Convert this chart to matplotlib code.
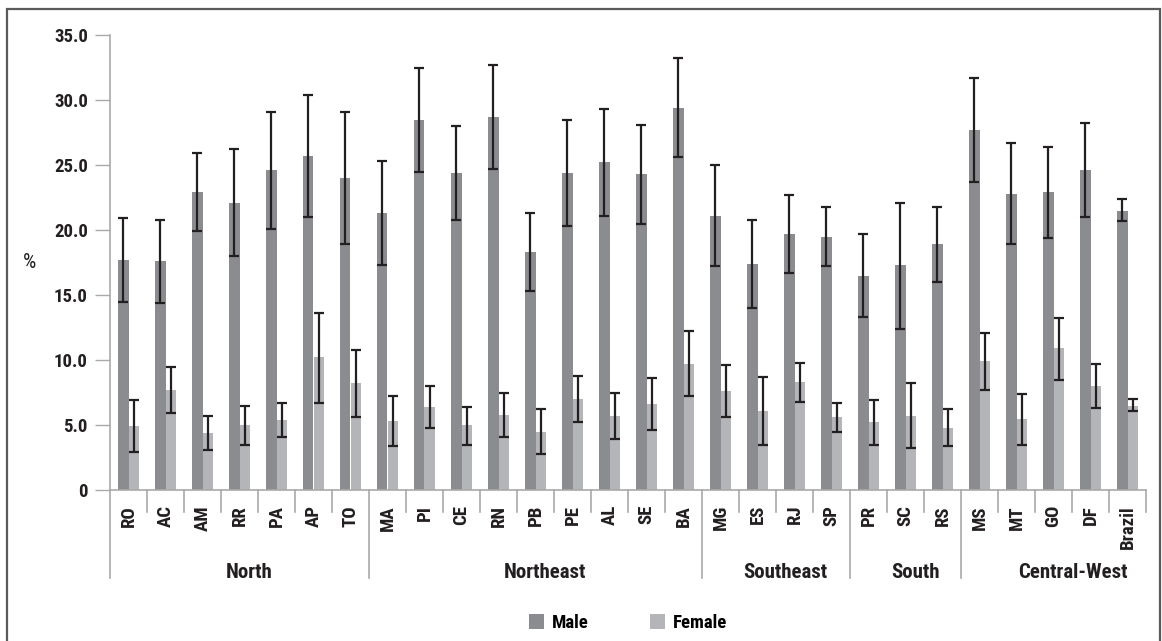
import matplotlib
matplotlib.use("Agg")
import matplotlib.pyplot as plt
import matplotlib.transforms as mtransforms
from matplotlib import font_manager
from matplotlib.patches import Patch, Rectangle
import numpy as np

# ---- data -------------------------------------------------------------
states = ["RO", "AC", "AM", "RR", "PA", "AP", "TO",
          "MA", "PI", "CE", "RN", "PB", "PE", "AL", "SE", "BA",
          "MG", "ES", "RJ", "SP",
          "PR", "SC", "RS",
          "MS", "MT", "GO", "DF", "Brazil"]
regions = ["North", "Northeast", "Southeast", "South", "Central-West"]
region_sizes = [7, 9, 4, 3, 5]

male = [17.7, 17.6, 22.9, 22.1, 24.6, 25.7, 24.0,
        21.3, 28.5, 24.4, 28.7, 18.3, 24.4, 25.2, 24.3, 29.4,
        21.1, 17.4, 19.7, 19.5,
        16.5, 17.3, 18.9,
        27.7, 22.8, 22.9, 24.6, 21.5]
male_lo = [14.5, 14.4, 19.9, 18.0, 20.1, 21.0, 18.9,
           17.3, 24.5, 20.8, 24.7, 15.3, 20.3, 21.1, 20.5, 25.6,
           17.2, 14.0, 16.7, 17.2,
           13.3, 12.4, 16.0,
           23.7, 18.9, 19.4, 21.0, 20.7]
male_hi = [20.9, 20.8, 25.9, 26.2, 29.1, 30.4, 29.1,
           25.3, 32.5, 28.0, 32.7, 21.3, 28.5, 29.3, 28.1, 33.2,
           25.0, 20.8, 22.7, 21.8,
           19.7, 22.1, 21.8,
           31.7, 26.7, 26.4, 28.2, 22.4]

female = [4.9, 7.7, 4.4, 5.0, 5.4, 10.2, 8.2,
          5.3, 6.4, 5.0, 5.8, 4.5, 7.0, 5.7, 6.6, 9.7,
          7.6, 6.1, 8.3, 5.6,
          5.2, 5.7, 4.8,
          9.9, 5.5, 10.9, 8.0, 6.5]
female_lo = [2.9, 5.9, 3.1, 3.5, 4.1, 6.7, 5.6,
             3.4, 4.8, 3.5, 4.1, 2.8, 5.2, 3.9, 4.6, 7.2,
             5.6, 3.5, 6.8, 4.5,
             3.5, 3.2, 3.4,
             7.7, 3.5, 8.5, 6.3, 6.1]
female_hi = [6.9, 9.5, 5.7, 6.5, 6.7, 13.6, 10.8,
             7.2, 8.0, 6.4, 7.5, 6.2, 8.8, 7.5, 8.6, 12.2,
             9.6, 8.7, 9.8, 6.7,
             6.9, 8.2, 6.2,
             12.1, 7.4, 13.2, 9.7, 7.0]

# ---- styling ----------------------------------------------------------
# prefer a condensed sans if one is installed, otherwise a narrow-ish one
installed = {f.name for f in font_manager.fontManager.ttflist}
condensed = [n for n in ("Liberation Sans Narrow", "Roboto Condensed",
                         "Open Sans Condensed", "Noto Sans Condensed",
                         "DejaVu Sans Condensed") if n in installed]
BASE = condensed[0] if condensed else "Lato"
FONT = [BASE, "DejaVu Sans"]
SCALE = 1.0 if condensed else 0.9
plt.rcParams["font.family"] = FONT

MALE_C = "#8b8c90"
FEMALE_C = "#b4b5b8"
ERR_C = "#231f20"
AXIS_C = "#a9a9a9"
TEXT_C = "#231f20"

W, H = 1162, 641
fig = plt.figure(figsize=(W / 100, H / 100), dpi=100)
ax = fig.add_axes([110 / W, 1 - 490 / H, (1146 - 110) / W, (490 - 35) / H])

x = np.arange(len(states))
bw = 0.284
male = np.array(male); female = np.array(female)
ax.bar(x - bw / 2, male, bw, color=MALE_C, zorder=2)
ax.bar(x + bw / 2, female, bw, color=FEMALE_C, zorder=2)

err_kw = dict(fmt="none", ecolor=ERR_C, elinewidth=1.6, capsize=3.6,
              capthick=1.6, zorder=3)
ax.errorbar(x - bw / 2, male,
            yerr=[male - np.array(male_lo), np.array(male_hi) - male], **err_kw)
ax.errorbar(x + bw / 2, female,
            yerr=[female - np.array(female_lo), np.array(female_hi) - female], **err_kw)

ax.set_xlim(-0.5, len(states) - 0.5)
ax.set_ylim(0, 35)

yt = np.arange(0, 35.1, 5)
ax.set_yticks(yt)
ax.set_yticklabels(["0" if v == 0 else f"{v:.1f}" for v in yt],
                   fontsize=13.5 * SCALE, fontweight="bold", color=TEXT_C)
ax.tick_params(axis="y", length=11, width=1, color=AXIS_C, pad=5)
ax.set_xticks([])

for s in ["top", "right"]:
    ax.spines[s].set_visible(False)
for s in ["left", "bottom"]:
    ax.spines[s].set_color(AXIS_C)
    ax.spines[s].set_linewidth(1.2)

ax.text(-0.078, 0.5, "%", transform=ax.transAxes, fontsize=15 * SCALE,
        color=TEXT_C, ha="center", va="center")

# ---- two-level category axis -----------------------------------------
trans = mtransforms.blended_transform_factory(ax.transData, ax.transAxes)
ax_h = 490 - 35
short_y = -22 / ax_h
long_y = -88 / ax_h

bounds = np.cumsum([0] + region_sizes) - 0.5
for edge in np.arange(-0.5, len(states), 1.0):
    is_group = any(np.isclose(edge, b) for b in bounds[:-1])
    ax.plot([edge, edge], [0, long_y if is_group else short_y],
            transform=trans, color=AXIS_C, lw=1.2, clip_on=False)

for i, name in enumerate(states):
    ax.text(i, -15 / ax_h, name, transform=trans, rotation=90,
            ha="center", va="top", fontsize=13.5 * SCALE, fontweight="bold",
            color=TEXT_C)

label_shift = [0.26, 0.26, 0.26, 0.26, 0.52]
for k, name in enumerate(regions):
    cx = (bounds[k] + bounds[k + 1]) / 2 + label_shift[k]
    ax.text(cx, -83 / ax_h, name, transform=trans, ha="center", va="center",
            fontsize=15 * SCALE, fontweight="bold", color=TEXT_C)

# ---- legend ----------------------------------------------------------
handles = [Patch(facecolor=MALE_C, label="Male"),
           Patch(facecolor=FEMALE_C, label="Female")]
fig.legend(handles=handles, loc="center", bbox_to_anchor=(628 / W, 1 - 623 / H),
           ncol=2, frameon=False, handlelength=0.8, handleheight=0.8,
           handletextpad=0.4, columnspacing=3.3,
           prop=dict(family=FONT, weight="bold", size=13.5 * SCALE))

# ---- outer frame -----------------------------------------------------
fig.patches.append(Rectangle((7 / W, -0.02), (1160 - 7) / W, 1 - 9 / H + 0.02,
                             transform=fig.transFigure, fill=False,
                             edgecolor="#5a5a5a", lw=1.6, zorder=0))

fig.savefig("out.png", dpi=100)
